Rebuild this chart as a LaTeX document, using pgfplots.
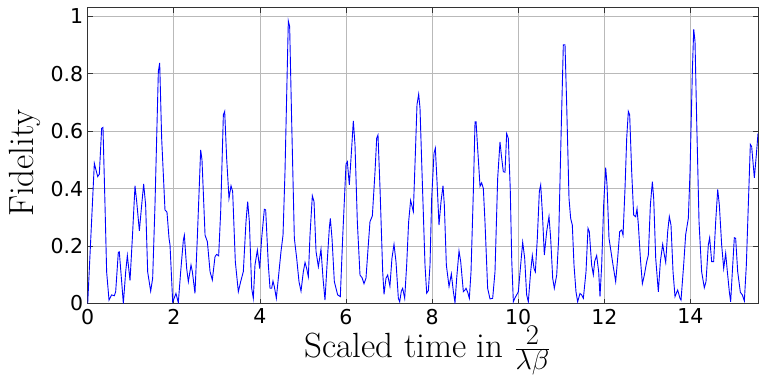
\documentclass[border=0pt]{standalone}
\usepackage{fontspec}
\usepackage{graphicx}
\usepackage{pgfplots}
\pgfplotsset{compat=1.18}
\newfontfamily\tickfont{DejaVu Sans}

\pgfplotstableread{
t f
0.000 0.000
0.154 0.488
0.232 0.442
0.270 0.450
0.324 0.610
0.355 0.613
0.402 0.343
0.440 0.110
0.495 0.012
0.557 0.030
0.619 0.027
0.650 0.041
0.711 0.178
0.734 0.180
0.789 0.076
0.828 0.000
0.882 0.110
0.921 0.167
0.983 0.080
1.037 0.227
1.099 0.410
1.138 0.355
1.200 0.253
1.254 0.343
1.300 0.416
1.346 0.343
1.393 0.110
1.463 0.043
1.509 0.088
1.563 0.343
1.641 0.808
1.672 0.838
1.718 0.575
1.795 0.326
1.842 0.318
1.889 0.227
1.912 0.204
1.974 0.006
2.005 0.017
2.050 0.035
2.105 0.003
2.160 0.111
2.222 0.221
2.245 0.238
2.299 0.122
2.338 0.076
2.400 0.134
2.431 0.111
2.492 0.035
2.546 0.227
2.624 0.535
2.655 0.500
2.726 0.238
2.780 0.215
2.842 0.111
2.895 0.082
2.957 0.163
2.996 0.171
3.042 0.166
3.089 0.320
3.151 0.657
3.182 0.669
3.228 0.505
3.282 0.366
3.329 0.410
3.367 0.390
3.429 0.146
3.499 0.041
3.553 0.076
3.615 0.111
3.677 0.285
3.716 0.355
3.755 0.285
3.809 0.053
3.847 0.018
3.886 0.134
3.941 0.186
3.995 0.122
4.041 0.227
4.103 0.328
4.134 0.326
4.196 0.134
4.235 0.053
4.273 0.053
4.304 0.078
4.335 0.059
4.382 0.018
4.428 0.088
4.490 0.181
4.537 0.238
4.583 0.459
4.660 0.984
4.691 0.965
4.738 0.634
4.800 0.227
4.854 0.158
4.908 0.076
4.955 0.043
5.009 0.111
5.048 0.143
5.086 0.122
5.125 0.093
5.164 0.239
5.218 0.375
5.257 0.355
5.304 0.181
5.358 0.128
5.419 0.189
5.466 0.088
5.512 0.012
5.559 0.134
5.613 0.264
5.636 0.296
5.675 0.227
5.729 0.076
5.806 0.030
5.868 0.024
5.922 0.227
6.000 0.485
6.031 0.494
6.077 0.413
6.131 0.540
6.170 0.636
6.209 0.552
6.263 0.285
6.325 0.099
6.372 0.090
6.418 0.069
6.464 0.088
6.518 0.204
6.557 0.285
6.612 0.305
6.674 0.459
6.713 0.576
6.743 0.587
6.790 0.401
6.852 0.111
6.883 0.032
6.929 0.088
6.968 0.099
7.020 0.060
7.067 0.157
7.115 0.206
7.161 0.146
7.216 0.018
7.247 0.006
7.285 0.043
7.316 0.053
7.363 0.018
7.409 0.134
7.455 0.285
7.501 0.359
7.564 0.320
7.610 0.517
7.649 0.692
7.688 0.729
7.719 0.680
7.765 0.459
7.835 0.134
7.874 0.036
7.913 0.045
7.951 0.134
7.990 0.366
8.044 0.523
8.075 0.541
8.114 0.425
8.160 0.273
8.207 0.355
8.253 0.410
8.284 0.343
8.331 0.134
8.393 0.059
8.447 0.103
8.494 0.041
8.532 0.003
8.571 0.088
8.625 0.183
8.664 0.146
8.726 0.041
8.765 0.047
8.788 0.053
8.827 0.039
8.865 0.018
8.904 0.111
8.958 0.390
8.997 0.633
9.021 0.633
9.058 0.540
9.113 0.408
9.151 0.420
9.190 0.401
9.228 0.285
9.290 0.053
9.345 0.016
9.407 0.018
9.461 0.111
9.523 0.436
9.577 0.563
9.608 0.517
9.654 0.459
9.693 0.457
9.732 0.592
9.770 0.575
9.815 0.400
9.850 0.150
9.887 0.006
9.926 0.020
9.964 0.030
10.003 0.041
10.057 0.134
10.104 0.213
10.150 0.158
10.196 0.030
10.235 0.006
10.289 0.111
10.328 0.167
10.367 0.122
10.398 0.110
10.444 0.227
10.491 0.390
10.522 0.413
10.560 0.319
10.607 0.169
10.661 0.250
10.715 0.303
10.754 0.227
10.801 0.088
10.839 0.053
10.894 0.099
10.940 0.227
10.994 0.576
11.048 0.901
11.087 0.901
11.126 0.692
11.180 0.366
11.218 0.297
11.257 0.273
11.296 0.134
11.342 0.041
11.381 0.006
11.435 0.035
11.474 0.030
11.513 0.018
11.575 0.111
11.621 0.262
11.652 0.250
11.706 0.134
11.745 0.100
11.776 0.146
11.822 0.167
11.869 0.111
11.900 0.024
11.939 0.134
11.985 0.343
12.032 0.473
12.063 0.413
12.109 0.227
12.155 0.181
12.202 0.134
12.264 0.076
12.310 0.157
12.357 0.250
12.404 0.256
12.435 0.238
12.481 0.401
12.520 0.575
12.558 0.669
12.589 0.657
12.636 0.459
12.682 0.308
12.729 0.302
12.760 0.330
12.791 0.274
12.838 0.157
12.884 0.069
12.930 0.099
12.985 0.146
13.023 0.169
13.070 0.343
13.116 0.424
13.147 0.366
13.194 0.157
13.255 0.041
13.302 0.146
13.356 0.206
13.395 0.169
13.426 0.143
13.472 0.250
13.510 0.303
13.549 0.273
13.596 0.111
13.642 0.024
13.681 0.039
13.704 0.047
13.758 0.018
13.782 0.012
13.843 0.134
13.890 0.240
13.952 0.297
13.991 0.459
14.045 0.808
14.077 0.955
14.107 0.912
14.146 0.634
14.200 0.285
14.261 0.110
14.323 0.055
14.362 0.076
14.416 0.204
14.447 0.229
14.494 0.146
14.540 0.146
14.587 0.285
14.634 0.397
14.672 0.343
14.726 0.204
14.773 0.122
14.819 0.175
14.858 0.111
14.904 0.041
14.935 0.006
14.974 0.111
15.020 0.229
15.051 0.227
15.098 0.111
15.160 0.039
15.206 0.030
15.253 0.009
15.299 0.134
15.345 0.343
15.392 0.554
15.423 0.546
15.485 0.438
15.531 0.517
15.570 0.592
}\fidelity

\begin{document}
\begin{tikzpicture}
\begin{axis}[
  at={(0,0)}, anchor=south west,
  scale only axis,
  width=670.3bp, height=295.8bp,
  xmin=0, xmax=15.57,
  ymin=0, ymax=1.03,
  xtick={0,2,...,14},
  ytick={0,0.2,0.4,0.6,0.8,1},
  yticklabels={0,0.2,0.4,0.6,0.8,1},
  tick align=inside,
  major tick length=5bp,
  tick style={black!80, line width=0.8bp},
  axis line style={black!80, line width=1bp},
  grid=major,
  major grid style={gray!55, line width=0.8bp},
  /pgf/number format/assume math mode=true,
  ticklabel style={font=\tickfont\fontsize{20.5bp}{24bp}\selectfont},
  xticklabel style={yshift=-2bp},
  yticklabel style={xshift=-1bp},
  label style={font=\fontsize{35bp}{40bp}\selectfont},
  xlabel={Scaled time in \raisebox{1bp}{\scalebox{1.15}{$\frac{2}{\lambda\beta}$}}},
  xlabel style={at={(axis description cs:0.507,0)}, anchor=base, yshift=-53.5bp},
  ylabel={Fidelity},
  ylabel style={at={(axis description cs:-0.0935,0.475)}, anchor=center},
]
\addplot[blue, line width=0.9bp] table[x=t, y=f] {\fidelity};
\end{axis}
\pgfresetboundingbox
\path[use as bounding box] (-87.7bp,-72.5bp) rectangle (672.3bp,303.5bp);
\end{tikzpicture}
\end{document}
